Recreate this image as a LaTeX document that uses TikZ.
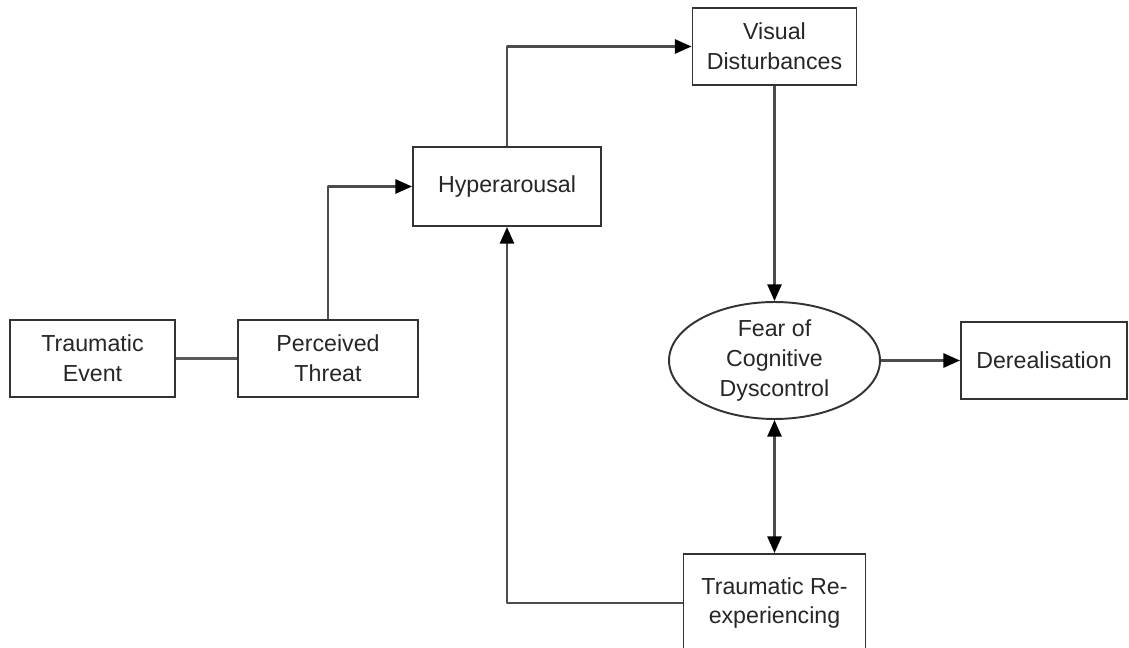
\documentclass[tikz,border=0pt]{standalone}
\usepackage{fontspec}
\setmainfont{Liberation Sans}
\usetikzlibrary{arrows.meta,shapes.geometric}

\tikzset{
	box/.style={draw=black!80, line width=1.1pt, rectangle, align=center, minimum height=1.54cm, inner sep=2pt},
	oval/.style={draw=black!80, line width=1.1pt, ellipse, align=center, minimum width=4.22cm, minimum height=2.34cm, inner sep=0pt},
	tip/.tip={Triangle[length=9.5pt,width=8pt,color=black]},
	conn/.style={draw=black!70, line width=1.5pt, -tip, line join=round}
}

\begin{document}
\begin{tikzpicture}[x=0.02cm, y=-0.02cm, font=\fontsize{13.2}{17}\selectfont, text=black!85]
	\clip (0,0) rectangle (1129,648);
	
	% Left column
	\node[box, minimum width=3.3cm]  (tevent)  at (92.5,358.5) {Traumatic\\Event};
	\node[box, minimum width=3.6cm]  (pthreat) at (328,358.5)  {Perceived\\Threat};
	
	% Middle
	\node[box, minimum width=3.76cm, minimum height=1.58cm] (hyper) at (507,186.5) {Hyperarousal};
	\node[box, minimum width=3.28cm] (visual) at (774.5,46.5) {Visual\\Disturbances};
	
	% Right
	\node[oval] (fear) at (774.5,360.5) {Fear of\\Cognitive\\Dyscontrol};
	\node[box, minimum width=3.32cm] (dereal) at (1044,360.5) {Derealisation};
	\node[box, minimum width=3.64cm, minimum height=1.96cm] (reexp) at (774.5,603) {Traumatic Re-\\experiencing};
	
	% Connectors
	\draw[draw=black!65, line width=2pt] (tevent.east) -- (pthreat.west);
	\draw[conn] (pthreat.north) |- (hyper.west);
	\draw[conn] (hyper.north) |- (visual.west);
	\draw[conn] (visual.south) -- (fear.north);
	\draw[conn] (fear.east) -- (dereal.west);
	\draw[conn, tip-tip] (fear.south) -- (reexp.north);
	\draw[conn] (reexp.west) -| (hyper.south);
\end{tikzpicture}
\end{document}
